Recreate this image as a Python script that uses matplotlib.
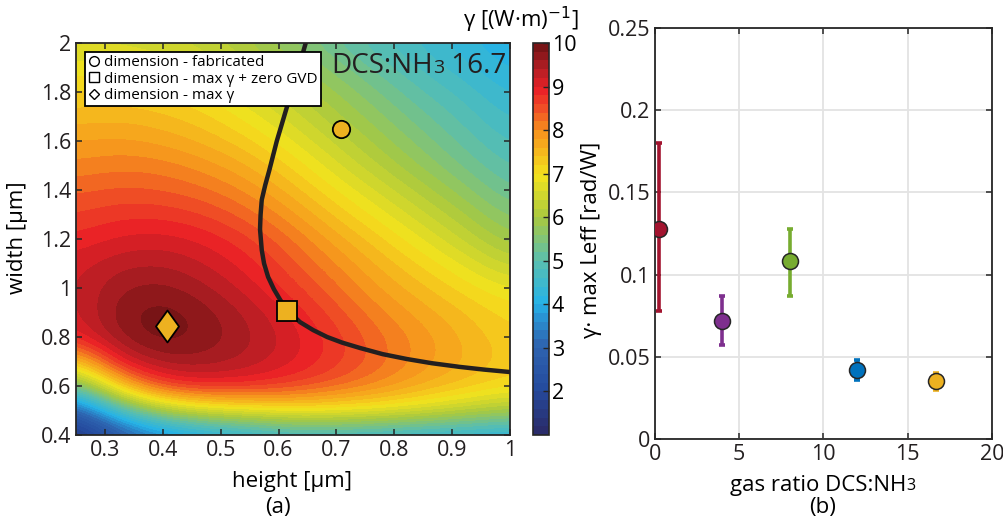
import numpy as np
import matplotlib
matplotlib.use('Agg')
import matplotlib.pyplot as plt
from matplotlib.colors import LinearSegmentedColormap
from matplotlib.lines import Line2D
from matplotlib.path import Path
from matplotlib.offsetbox import TextArea, HPacker, AnchoredOffsetbox

plt.rcParams['font.family'] = ['Open Sans', 'DejaVu Sans']

# ---- (a) nonlinear coefficient map, values read on a regular grid ----
height = [0.25, 0.325, 0.4, 0.475, 0.55, 0.625, 0.7, 0.775, 0.85, 0.925, 1.0]
width = [0.4, 0.5, 0.6, 0.7, 0.8, 0.9, 1.0, 1.1, 1.2, 1.3, 1.4, 1.5, 1.6, 1.7, 1.8, 1.9, 2.0]
# one row per width (bottom to top), one value per height
gamma_rows = [
    [1.2, 2.6, 3.5, 3.9, 4.2, 4.5, 4.5, 4.4, 4.3, 4.2, 4.1],
    [2.7, 4.8, 6.0, 6.6, 6.8, 7.0, 6.95, 6.85, 6.6, 6.3, 6.0],
    [5.2, 7.4, 8.7, 8.9, 8.85, 8.65, 8.35, 8.0, 7.65, 7.35, 7.1],
    [7.3, 9.1, 9.55, 9.55, 9.35, 9.05, 8.7, 8.3, 7.9, 7.6, 7.3],
    [8.9, 9.65, 9.95, 9.75, 9.45, 9.1, 8.7, 8.25, 7.9, 7.55, 7.25],
    [9.1, 9.75, 9.95, 9.7, 9.35, 8.95, 8.5, 8.05, 7.7, 7.4, 7.1],
    [9.15, 9.6, 9.7, 9.45, 9.1, 8.7, 8.25, 7.8, 7.45, 7.1, 6.8],
    [9.1, 9.35, 9.4, 9.2, 8.9, 8.45, 8.0, 7.55, 7.15, 6.75, 6.3],
    [8.85, 9.05, 9.1, 8.95, 8.65, 8.2, 7.7, 7.25, 6.8, 6.35, 5.85],
    [8.6, 8.75, 8.75, 8.6, 8.3, 7.85, 7.35, 6.9, 6.45, 6.0, 5.5],
    [8.35, 8.45, 8.4, 8.25, 7.95, 7.5, 7.0, 6.55, 6.1, 5.65, 5.2],
    [8.05, 8.15, 8.1, 7.9, 7.6, 7.15, 6.65, 6.2, 5.75, 5.35, 4.95],
    [7.8, 7.85, 7.75, 7.55, 7.25, 6.8, 6.35, 5.9, 5.5, 5.1, 4.75],
    [7.5, 7.55, 7.45, 7.25, 6.9, 6.5, 6.05, 5.65, 5.25, 4.9, 4.55],
    [7.2, 7.25, 7.15, 6.95, 6.6, 6.2, 5.8, 5.4, 5.0, 4.7, 4.35],
    [6.9, 6.9, 6.8, 6.6, 6.3, 5.9, 5.5, 5.1, 4.75, 4.45, 4.15],
    [6.55, 6.55, 6.45, 6.3, 6.0, 5.6, 5.2, 4.85, 4.55, 4.25, 4.0],
]

# zero GVD curve
gvd_h = [0.647, 0.630, 0.613, 0.597, 0.584, 0.577, 0.571, 0.569, 0.568, 0.571, 0.575, 0.582,
         0.592, 0.603, 0.615, 0.637, 0.660, 0.684, 0.710, 0.741, 0.780, 0.822, 0.865, 0.913, 0.955, 1.0]
gvd_w = [2.0, 1.86, 1.727, 1.60, 1.48, 1.42, 1.36, 1.30, 1.24, 1.155, 1.10, 1.045,
         0.995, 0.951, 0.91, 0.861, 0.828, 0.80, 0.777, 0.755, 0.73, 0.71, 0.693, 0.678, 0.667, 0.657]

fab_dim = (0.708, 1.649)
gvd_dim = (0.614, 0.908)
max_dim = (0.407, 0.845)

xticks_a = [0.3, 0.4, 0.5, 0.6, 0.7, 0.8, 0.9, 1.0]
xlabels_a = ['0.3', '0.4', '0.5', '0.6', '0.7', '0.8', '0.9', '1']
yticks_a = [0.4, 0.6, 0.8, 1.0, 1.2, 1.4, 1.6, 1.8, 2.0]
ylabels_a = ['0.4', '0.6', '0.8', '1', '1.2', '1.4', '1.6', '1.8', '2']
cbar_ticks = [2, 3, 4, 5, 6, 7, 8, 9, 10]

# ---- (b) measured gamma*Leff vs gas ratio ----
ratio = [0.25, 4, 8, 12, 16.7]
gl = [0.128, 0.072, 0.108, 0.042, 0.035]
gl_low = [0.078, 0.057, 0.087, 0.036, 0.030]
gl_high = [0.180, 0.087, 0.128, 0.048, 0.040]
pt_colors = ['#A2142F', '#7E2F8E', '#77AC30', '#0072BD', '#EDB120']

xticks_b = [0, 5, 10, 15, 20]
yticks_b = [0, 0.05, 0.1, 0.15, 0.2, 0.25]
ylabels_b = ['0', '0.05', '0.1', '0.15', '0.2', '0.25']

# colormap (jet-like, banded)
cmap = LinearSegmentedColormap.from_list('gam', [
    (0.0, '#2a2c6b'), (1/9, '#254b9e'), (2/9, '#2e64b0'), (2.6/9, '#2a8fd0'),
    (3/9, '#25b3e8'), (4/9, '#5bbfae'), (5/9, '#a8c940'), (6/9, '#f4e31d'),
    (7/9, '#f7941d'), (7.6/9, '#ef4a26'), (8/9, '#ea2127'), (8.5/9, '#b21e24'),
    (1.0, '#781416')], N=45)

W, H = 1004, 525
fig = plt.figure(figsize=(W / 100, H / 100), dpi=100)
ax1 = fig.add_axes([76 / W, 1 - 435 / H, 434 / W, 392 / H])
cax = fig.add_axes([533 / W, 1 - 435 / H, 16 / W, 392 / H])
ax2 = fig.add_axes([655 / W, 1 - 439 / H, 337 / W, 411 / H])

edge = '#262626'
tsize = 15.5
lsize = 16

# ---- panel a ----
Z = np.array(gamma_rows)
dh = height[1] - height[0]
dw = width[1] - width[0]
im = ax1.imshow(Z, origin='lower', aspect='auto', cmap=cmap, vmin=1, vmax=10,
                interpolation='bicubic', interpolation_stage='data',
                extent=[height[0] - dh / 2, height[-1] + dh / 2, width[0] - dw / 2, width[-1] + dw / 2])
ax1.plot(gvd_h, gvd_w, color='#231f20', lw=3.2, solid_capstyle='round', solid_joinstyle='round', zorder=3)

diamond = Path([(0, 1), (0.72, 0), (0, -1), (-0.72, 0), (0, 1)], closed=True)
ax1.plot(*fab_dim, 'o', ms=12.5, mfc='#EDB120', mec='k', mew=1.3, zorder=4)
ax1.plot(*gvd_dim, 's', ms=14, mfc='#EDB120', mec='k', mew=1.3, zorder=4)
ax1.plot(*max_dim, marker=diamond, ls='none', ms=23, mfc='#EDB120', mec='k', mew=1.3, zorder=4)

ax1.set_xlim(0.25, 1.0)
ax1.set_ylim(0.4, 2.0)
ax1.set_xticks(xticks_a)
ax1.set_xticklabels(xlabels_a)
ax1.set_yticks(yticks_a)
ax1.set_yticklabels(ylabels_a)

handles = [Line2D([], [], marker='o', ls='none', mfc='none', mec='k', ms=7, mew=1),
           Line2D([], [], marker='s', ls='none', mfc='none', mec='k', ms=6.5, mew=1),
           Line2D([], [], marker='D', ls='none', mfc='none', mec='k', ms=5.5, mew=1)]
leg = ax1.legend(handles, ['dimension - fabricated', 'dimension - max γ + zero GVD', 'dimension - max γ'],
                 loc='upper left', bbox_to_anchor=(85 / W, 1 - 52 / H), bbox_transform=fig.transFigure,
                 fontsize=11, frameon=True, fancybox=False, framealpha=1, edgecolor='k',
                 borderpad=0.2, labelspacing=0.1, handlelength=0.8, handletextpad=0.25,
                 borderaxespad=0)
leg.get_frame().set_linewidth(1.3)

tag = HPacker(children=[TextArea('DCS:NH', textprops=dict(size=20, color='#231f20')),
                        TextArea('3', textprops=dict(size=14, color='#231f20')),
                        TextArea(' 16.7', textprops=dict(size=20, color='#231f20'))],
              align='baseline', pad=0, sep=0)
ax1.add_artist(AnchoredOffsetbox(loc='lower left', child=tag, pad=0, borderpad=0, frameon=False,
                                 bbox_to_anchor=(331 / W, 1 - 80 / H), bbox_transform=fig.transFigure))

cb = fig.colorbar(im, cax=cax, ticks=cbar_ticks)
cb.outline.set_edgecolor(edge)
cb.outline.set_linewidth(1.2)
cax.tick_params(direction='in', length=4, width=1, color=edge, labelsize=tsize, pad=2)
fig.text(521 / W, 1 - 20 / H, 'γ [(W·m)$^{-1}$]', ha='center', va='center', fontsize=lsize)

# ---- panel b ----
ax2.grid(True, color='#e3e3e3', lw=1.3)
ax2.set_axisbelow(True)
for x, y, lo, hi, c in zip(ratio, gl, gl_low, gl_high, pt_colors):
    ax2.errorbar([x], [y], yerr=[[y - lo], [hi - y]], fmt='none', ecolor=c, elinewidth=2.6,
                 capsize=2.5, capthick=2.6, zorder=3)
    ax2.plot([x], [y], 'o', ms=11.5, mfc=c, mec='#262626', mew=1.1, zorder=4)
ax2.set_xlim(0, 20)
ax2.set_ylim(0, 0.25)
ax2.set_xticks(xticks_b)
ax2.set_yticks(yticks_b)
ax2.set_yticklabels(ylabels_b)

for ax in (ax1, ax2):
    for s in ax.spines.values():
        s.set_color(edge)
        s.set_linewidth(1.3)
    ax.tick_params(direction='in', length=4.5, width=1.1, color=edge, labelsize=tsize,
                   top=True, right=True, labelcolor='#231f20')

# labels
fig.text(18 / W, 1 - 238 / H, 'width [μm]', rotation=90, ha='center', va='center', fontsize=lsize)
fig.text(292 / W, 1 - 482 / H, 'height [μm]', ha='center', va='center', fontsize=lsize)
fig.text(278 / W, 1 - 507 / H, '(a)', ha='center', va='center', fontsize=lsize)
fig.text(592 / W, 1 - 240 / H, 'γ· max Leff [rad/W]', rotation=90, ha='center', va='center', fontsize=lsize)
xl = HPacker(children=[TextArea('gas ratio DCS:NH', textprops=dict(size=lsize)),
                       TextArea('3', textprops=dict(size=11.5))],
             align='baseline', pad=0, sep=0)
fig.add_artist(AnchoredOffsetbox(loc='center', child=xl, pad=0, borderpad=0, frameon=False,
                                 bbox_to_anchor=(823 / W, 1 - 485 / H), bbox_transform=fig.transFigure))
fig.text(823 / W, 1 - 507 / H, '(b)', ha='center', va='center', fontsize=lsize)

fig.savefig('out.png', dpi=100)
